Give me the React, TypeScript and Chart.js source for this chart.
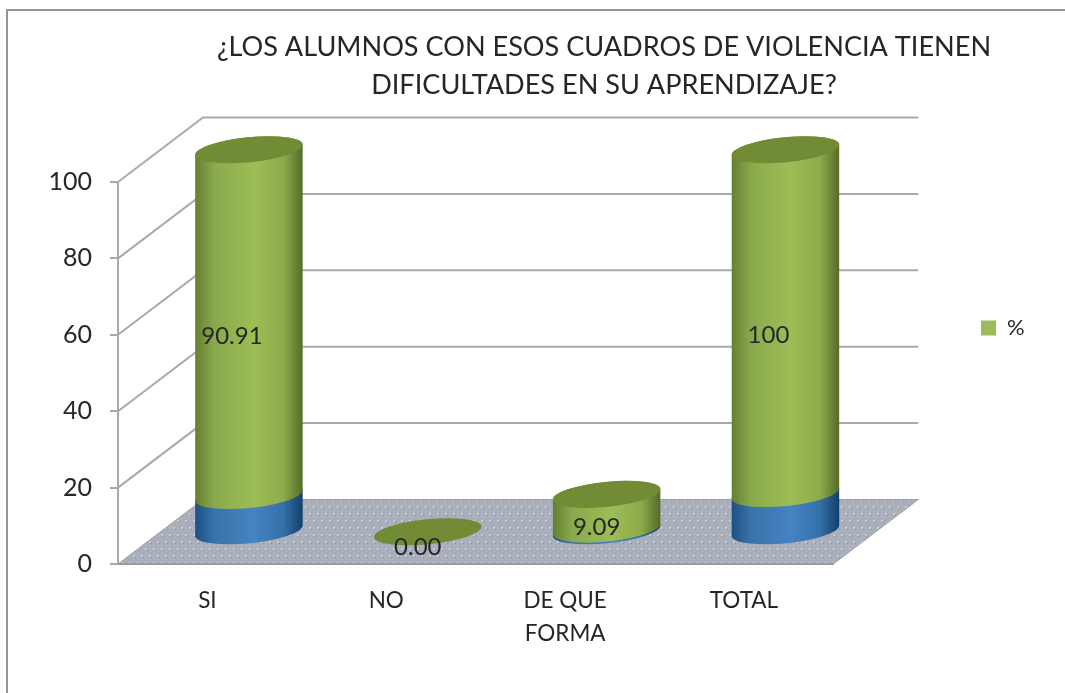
import React, { useEffect, useRef } from "react";
import { Chart, registerables } from "chart.js";

Chart.register(...registerables);

const categories: (string | string[])[] = ["SI", "NO", ["DE QUE", "FORMA"], "TOTAL"];
const blueValues = [9.5, 0, 0.7, 10];
const greenValues = [90.91, 0, 9.09, 100];
const greenLabels = ["90.91", "0.00", "9.09", "100"];
const titleLines = ["¿LOS ALUMNOS CON ESOS CUADROS DE VIOLENCIA TIENEN", "DIFICULTADES EN SU APRENDIZAJE?"];
const seriesName = "%";

const FONT = "Lato";
const TEXT = "#262626";
const GRID = "#a9a9a9";
const DEPTH_X = 85;
const DEPTH_Y = 64.5;
const BAR_SHIFT_X = 41.5;
const TILT = -0.1;
const RY = 12.5;

function floorPattern(ctx: CanvasRenderingContext2D) {
  const c = document.createElement("canvas");
  c.width = 8;
  c.height = 14;
  const g = c.getContext("2d")!;
  g.fillStyle = "#a9afbb";
  g.fillRect(0, 0, 8, 14);
  const dot = (x: number, y: number) => {
    g.fillStyle = "#989eab";
    g.fillRect(x + 1, y + 1, 2, 2);
    g.fillStyle = "#c6cad2";
    g.fillRect(x, y, 2, 2);
  };
  dot(1, 2);
  dot(5, 9);
  return ctx.createPattern(c, "repeat")!;
}

function sideGradient(ctx: CanvasRenderingContext2D, x0: number, x1: number, stops: string[]) {
  const g = ctx.createLinearGradient(x0, 0, x1, 0);
  const at = [0, 0.18, 0.55, 0.82, 1];
  stops.forEach((s, i) => g.addColorStop(at[i], s));
  return g;
}

const GREEN_STOPS = ["#657f30", "#8aa94c", "#9dbd55", "#8dab4c", "#546b29"];
const BLUE_STOPS = ["#1c5083", "#3a73ab", "#4683c2", "#3470a8", "#123f6c"];

function cylinderBody(
  ctx: CanvasRenderingContext2D,
  cx: number,
  rx: number,
  top: number,
  bottom: number,
  stops: string[]
) {
  const dx = rx * Math.cos(TILT);
  const dy = rx * Math.sin(TILT);
  ctx.beginPath();
  ctx.moveTo(cx - dx, top - dy);
  ctx.lineTo(cx - dx, bottom - dy);
  ctx.ellipse(cx, bottom, rx, RY, TILT, Math.PI, 0, true);
  ctx.lineTo(cx + dx, top + dy);
  ctx.ellipse(cx, top, rx, RY, TILT, 0, Math.PI, true);
  ctx.closePath();
  ctx.fillStyle = sideGradient(ctx, cx - rx, cx + rx, stops);
  ctx.fill();
}

const scenePlugin = {
  id: "scene3d",
  afterLayout(chart: any) {
    const legend = chart.legend;
    legend.left = 971;
    legend.top = 307;
    legend.right = 1065;
    legend.bottom = 360;
    chart.titleBlock.left = 143;
    chart.titleBlock.right = 1065;
  },
  beforeDraw(chart: any) {
    const { ctx, chartArea: a, scales } = chart;
    const y = scales.y;
    const y0 = y.getPixelForValue(0);
    ctx.save();
    // floor
    ctx.beginPath();
    ctx.moveTo(a.left, y0);
    ctx.lineTo(a.right, y0);
    ctx.lineTo(a.right + DEPTH_X, y0 - DEPTH_Y);
    ctx.lineTo(a.left + DEPTH_X, y0 - DEPTH_Y);
    ctx.closePath();
    ctx.fillStyle = floorPattern(ctx);
    ctx.fill();
    ctx.strokeStyle = "#a0a0a0";
    ctx.lineWidth = 1;
    ctx.stroke();
    // walls
    ctx.strokeStyle = GRID;
    ctx.lineWidth = 2;
    y.ticks.forEach((t: any) => {
      const py = y.getPixelForValue(t.value);
      if (t.value === 0) return;
      ctx.beginPath();
      ctx.moveTo(a.left, py);
      ctx.lineTo(a.left + DEPTH_X, py - DEPTH_Y);
      ctx.lineTo(a.right + DEPTH_X, py - DEPTH_Y);
      ctx.stroke();
    });
    ctx.restore();
  },
  beforeDatasetDraw() {
    return false;
  },
  afterDatasetsDraw(chart: any) {
    const { ctx, scales } = chart;
    const y = scales.y;
    const blue = chart.getDatasetMeta(0).data;
    const green = chart.getDatasetMeta(1).data;
    const limit = y.top;
    ctx.save();
    green.forEach((bar: any, i: number) => {
      const cx = bar.x + BAR_SHIFT_X;
      const rx = bar.width / 2;
      const shiftY = -DEPTH_Y / 2;
      const bBase = blue[i].base + shiftY;
      const bTop = Math.max(blue[i].y, limit) + shiftY;
      const gTop = Math.max(bar.y, limit) + shiftY;
      if (bTop < bBase) cylinderBody(ctx, cx, rx, bTop, bBase, BLUE_STOPS);
      if (gTop < bTop) cylinderBody(ctx, cx, rx, gTop, bTop, GREEN_STOPS);
      ctx.beginPath();
      ctx.ellipse(cx, gTop, rx, RY, TILT, 0, Math.PI * 2);
      ctx.fillStyle = "#728c36";
      ctx.fill();
    });
    ctx.fillStyle = TEXT;
    ctx.font = `24px ${FONT}`;
    ctx.textAlign = "center";
    ctx.textBaseline = "middle";
    green.forEach((bar: any, i: number) => {
      const cx = bar.x + BAR_SHIFT_X;
      const gTop = Math.max(bar.y, limit);
      const mid = (gTop + blue[i].y) / 2 - DEPTH_Y / 2;
      const tall = blue[i].y - gTop > 100;
      ctx.fillText(greenLabels[i], cx + (tall ? -17 : -10), mid + (tall ? 14 : 16));
    });
    ctx.restore();
  },
};

export default function App() {
  const ref = useRef<HTMLCanvasElement | null>(null);
  useEffect(() => {
    const chart = new Chart(ref.current!, {
      type: "bar",
      data: {
        labels: categories as any,
        datasets: [
          { label: "", data: blueValues, backgroundColor: "#4f81bd", barThickness: 108 },
          { label: seriesName, data: greenValues, backgroundColor: "#9bbb59", barThickness: 108 },
        ],
      },
      plugins: [scenePlugin as any],
      options: {
        responsive: false,
        animation: false,
        layout: { padding: { left: 0, top: 0, bottom: 0, right: 168 } },
        plugins: {
          tooltip: { enabled: false },
          title: {
            display: true,
            text: titleLines,
            color: TEXT,
            font: { family: FONT, size: 27.1, weight: "normal", lineHeight: 38 / 27.1 },
            padding: { top: 28, bottom: 78 },
          },
          legend: {
            display: true,
            position: "right",
            align: "start",
            labels: {
              boxWidth: 15,
              boxHeight: 15,
              color: TEXT,
              font: { family: FONT, size: 22 },
              filter: (item: any) => item.text === seriesName,
            },
          },
        },
        scales: {
          x: {
            stacked: true,
            afterFit: (s: any) => {
              s.height = 129;
            },
            grid: { drawOnChartArea: false, drawTicks: false },
            border: { color: "#9a9a9a", width: 2 },
            ticks: {
              color: TEXT,
              padding: 20,
              maxRotation: 0,
              font: { family: FONT, size: 22.5, lineHeight: 1.47 },
            },
          },
          y: {
            stacked: true,
            min: 0,
            max: 100,
            afterFit: (s: any) => {
              s.width = 118;
            },
            grid: { drawOnChartArea: false, drawTicks: true, tickLength: 8, color: GRID, lineWidth: 2 },
            border: { color: GRID, width: 2 },
            ticks: {
              stepSize: 20,
              color: TEXT,
              padding: 18,
              font: { family: FONT, size: 25 },
            },
          },
        },
      },
    });
    return () => chart.destroy();
  }, []);
  return (
    <div style={{ position: "fixed", left: 0, top: 0, width: 1065, height: 693, background: "#fff" }}>
      <div
        style={{
          position: "absolute",
          left: 6,
          top: 9,
          right: 0,
          bottom: 0,
          borderTop: "2px solid #969696",
          borderLeft: "2px solid #969696",
        }}
      />
      <canvas ref={ref} width={1065} height={693} style={{ position: "absolute", left: 0, top: 0 }} />
    </div>
  );
}
